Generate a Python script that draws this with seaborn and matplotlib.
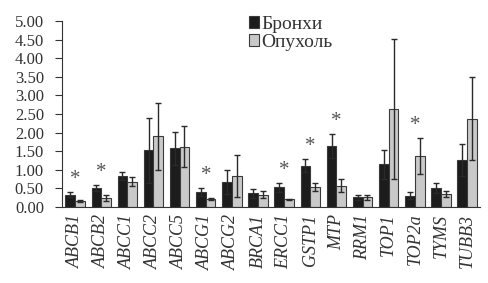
import seaborn as sns
import matplotlib.pyplot as plt
import pandas as pd
import numpy as np

DARK, LIGHT, EDGE = '#1c1c1c', '#c9c9c9', '#3a3a3a'

genes = ['ABCB1', 'ABCB2', 'ABCC1', 'ABCC2', 'ABCC5', 'ABCG1', 'ABCG2', 'BRCA1',
         'ERCC1', 'GSTP1', 'MTP', 'RRM1', 'TOP1', 'TOP2a', 'TYMS', 'TUBB3']
bronchi = [0.33, 0.52, 0.83, 1.52, 1.57, 0.40, 0.67, 0.36, 0.53, 1.11, 1.64, 0.26, 1.14, 0.30, 0.50, 1.26]
bronchi_err = [0.07, 0.08, 0.10, 0.88, 0.45, 0.10, 0.33, 0.11, 0.12, 0.17, 0.32, 0.07, 0.39, 0.09, 0.13, 0.43]
tumor = [0.15, 0.25, 0.68, 1.90, 1.62, 0.22, 0.83, 0.33, 0.20, 0.53, 0.57, 0.26, 2.63, 1.37, 0.34, 2.37]
tumor_err = [0.03, 0.08, 0.12, 0.90, 0.56, 0.03, 0.57, 0.09, 0.02, 0.11, 0.18, 0.07, 1.89, 0.48, 0.08, 1.12]
signif = ['ABCB1', 'ABCB2', 'ABCG1', 'ERCC1', 'GSTP1', 'MTP', 'TOP2a']
series = ['Бронхи', 'Опухоль']

df = pd.DataFrame({
    'gene': genes * 2,
    'value': bronchi + tumor,
    'err': bronchi_err + tumor_err,
    'group': [series[0]] * len(genes) + [series[1]] * len(genes),
})

sns.set_theme(style='white')
plt.rcParams['font.family'] = ['Liberation Serif', 'DejaVu Serif']

fig, ax = plt.subplots(figsize=(4.88, 2.83), dpi=100)
fig.subplots_adjust(left=0.127, right=0.984, bottom=0.269, top=0.926)

sns.barplot(data=df, x='gene', y='value', hue='group', palette=[DARK, LIGHT],
            errorbar=None, width=0.74, edgecolor=EDGE, linewidth=0.8,
            saturation=1, ax=ax, legend=False)

# symmetric error bars drawn over the bars
bars = ax.patches[:2 * len(genes)]
for p, v, e in zip(bars, df['value'], df['err']):
    ax.errorbar(p.get_x() + p.get_width() / 2, v, yerr=e, fmt='none',
                ecolor='#2a2a2a', elinewidth=1.0, capsize=2.5, capthick=1.0)

tops = np.maximum(np.array(bronchi) + bronchi_err, np.array(tumor) + tumor_err)
for g in signif:
    i = genes.index(g)
    ax.text(i, tops[i] + 0.08, '*', ha='center', va='bottom', fontsize=15, color='#555555')

ax.set_ylim(0, 5)
ax.set_xlim(-0.5, len(genes) - 0.5)
ticks = np.arange(0, 5.01, 0.5)
ax.set_yticks(ticks)
ax.set_yticklabels([f'{t:.2f}' for t in ticks], fontsize=12, color='#333333')
ax.set_xticks(np.arange(len(genes)))
ax.set_xticklabels(genes, rotation=90, fontsize=13, style='italic', color='#333333')
ax.tick_params(axis='x', length=0, pad=5)
ax.set_xticks(np.arange(-0.5, len(genes), 1), minor=True)
ax.tick_params(axis='x', which='minor', length=4, width=0.8, color='#333333', direction='out')
ax.tick_params(axis='y', length=5, width=0.8, color='#333333', direction='out', left=True, pad=8)
ax.set_xlabel('')
ax.set_ylabel('')
for s in ['top', 'right']:
    ax.spines[s].set_visible(False)
for s in ['left', 'bottom']:
    ax.spines[s].set_color('#333333')
    ax.spines[s].set_linewidth(0.8)

handles = [plt.Rectangle((0, 0), 1, 1, facecolor=c, edgecolor=EDGE, lw=0.8) for c in [DARK, LIGHT]]
fig.legend(handles, series, loc='upper left', bbox_to_anchor=(0.487, 0.985), frameon=False,
           fontsize=14, handlelength=0.5, handleheight=0.5, handletextpad=0.1,
           labelspacing=0.05, borderaxespad=0.2, labelcolor='#333333')

plt.savefig('out.png', dpi=100)
